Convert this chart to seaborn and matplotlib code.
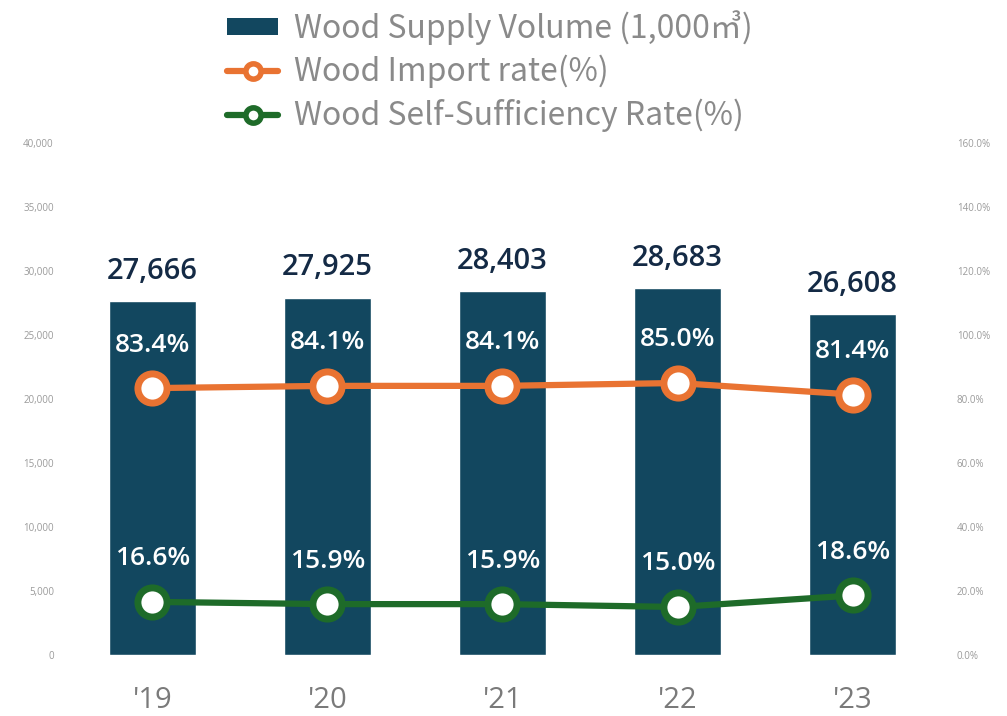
import matplotlib
matplotlib.use("Agg")
import matplotlib.pyplot as plt
import seaborn as sns
import numpy as np
import pandas as pd
from matplotlib.lines import Line2D
from matplotlib.patches import Patch

years = ["'19", "'20", "'21", "'22", "'23"]
supply = [27666, 27925, 28403, 28683, 26608]
import_rate = [83.4, 84.1, 84.1, 85.0, 81.4]
self_rate = [16.6, 15.9, 15.9, 15.0, 18.6]
left_ticks = [0, 5000, 10000, 15000, 20000, 25000, 30000, 35000, 40000]
right_ticks = [0, 20, 40, 60, 80, 100, 120, 140, 160]

BAR = "#12475f"
ORANGE = "#e97332"
GREEN = "#1e6b29"
NAVY = "#142a45"

sns.set_theme(style="white")
plt.rcParams['font.family'] = ['Open Sans', 'Noto Sans CJK KR', 'DejaVu Sans']

fig = plt.figure(figsize=(10.07, 7.16), dpi=100)
ax = fig.add_axes([0.0645, 0.0852, 0.869, 0.7151])

df = pd.DataFrame({"year": years, "supply": supply})
sns.barplot(data=df, x="year", y="supply", color=BAR, width=0.5, saturation=1, ax=ax)
ax.set_ylim(0, 40000)
ax.set_xlim(-0.5, len(years) - 0.5)
ax.set_yticks(left_ticks)
ax.set_yticklabels([f"{v:,}" for v in left_ticks], fontsize=7, color="#9a9a9a")
ax.set_xlabel("")
ax.set_ylabel("")
ax.tick_params(axis="x", labelsize=21, colors="#7a7a7a", length=0, pad=22)
ax.tick_params(axis="y", length=0, pad=8)
for s in ax.spines.values():
    s.set_visible(False)

xpos = np.arange(len(years))
for x, v in zip(xpos, supply):
    ax.annotate(f"{v:,}", (x, v), xytext=(0, 11), textcoords="offset points",
                ha="center", va="bottom", fontsize=21, color=NAVY, fontweight="semibold")

ax2 = ax.twinx()
sns.lineplot(x=xpos, y=import_rate, color=ORANGE, lw=4.5, marker="o", markersize=21,
             markerfacecolor="white", markeredgecolor=ORANGE, markeredgewidth=5, ax=ax2)
sns.lineplot(x=xpos, y=self_rate, color=GREEN, lw=4.5, marker="o", markersize=21,
             markerfacecolor="white", markeredgecolor=GREEN, markeredgewidth=5, ax=ax2)
ax2.set_ylim(0, 160)
ax2.set_yticks(right_ticks)
ax2.set_yticklabels([f"{v:.1f}%" for v in right_ticks], fontsize=7, color="#9a9a9a")
ax2.tick_params(axis="y", length=0, pad=12)
for s in ax2.spines.values():
    s.set_visible(False)
ax2.set_xlim(-0.5, len(years) - 0.5)

for x, v in zip(xpos, import_rate):
    ax2.annotate(f"{v:.1f}%", (x, v), xytext=(0, 22), textcoords="offset points",
                 ha="center", va="bottom", fontsize=19, color="white", fontweight="semibold")
for x, v in zip(xpos, self_rate):
    ax2.annotate(f"{v:.1f}%", (x, v), xytext=(0, 22), textcoords="offset points",
                 ha="center", va="bottom", fontsize=19, color="white", fontweight="semibold")

handles = [
    Patch(facecolor=BAR, edgecolor="none"),
    Line2D([0], [0], color=ORANGE, lw=4.5, marker="o", markersize=11,
           markerfacecolor="white", markeredgecolor=ORANGE, markeredgewidth=4),
    Line2D([0], [0], color=GREEN, lw=4.5, marker="o", markersize=11,
           markerfacecolor="white", markeredgecolor=GREEN, markeredgewidth=4),
]
labels = ["Wood Supply Volume (1,000㎥)", "Wood Import rate(%)", "Wood Self-Sufficiency Rate(%)"]
leg = fig.legend(handles, labels, loc="upper left", bbox_to_anchor=(0.213, 1.004),
                 frameon=False, prop={"family": ["Noto Sans CJK KR", "DejaVu Sans"], "size": 23},
                 labelcolor="#8a8a8a", handlelength=1.6, handleheight=0.45,
                 handletextpad=0.5, labelspacing=0.32, borderaxespad=0)

fig.savefig("out.png", dpi=100)
